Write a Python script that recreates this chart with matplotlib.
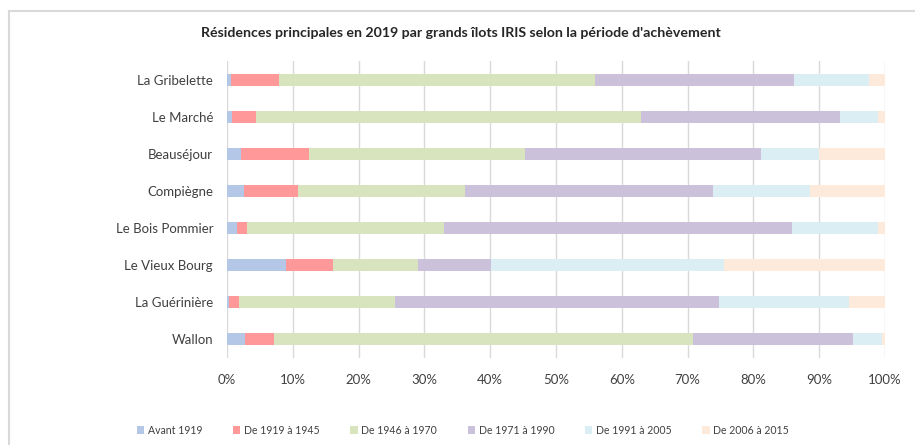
import matplotlib
matplotlib.use("Agg")
import matplotlib.pyplot as plt
from matplotlib.patches import Rectangle
from matplotlib.ticker import PercentFormatter

categories = ["La Gribelette", "Le Marché", "Beauséjour", "Compiègne",
              "Le Bois Pommier", "Le Vieux Bourg", "La Guérinière", "Wallon"]
series_names = ["Avant 1919", "De 1919 à 1945", "De 1946 à 1970",
                "De 1971 à 1990", "De 1991 à 2005", "De 2006 à 2015"]
avant_1919 = [0.6, 0.7, 2.1, 2.6, 1.5, 8.9, 0.3, 2.8]
de_1919_1945 = [7.3, 3.7, 10.4, 8.2, 1.5, 7.2, 1.5, 4.4]
de_1946_1970 = [48.0, 58.5, 32.8, 25.4, 30.0, 13.0, 23.8, 63.6]
de_1971_1990 = [30.2, 30.3, 35.9, 37.6, 52.8, 11.0, 49.1, 24.4]
de_1991_2005 = [11.4, 5.8, 8.8, 14.8, 13.1, 35.4, 19.9, 4.3]
de_2006_2015 = [2.5, 1.0, 10.0, 11.4, 1.1, 24.5, 5.4, 0.5]
series = [avant_1919, de_1919_1945, de_1946_1970, de_1971_1990, de_1991_2005, de_2006_2015]
colors = ["#B4C7E7", "#FF9999", "#D7E4BD", "#CCC1DA", "#DBEEF4", "#FDEADA"]

W, H = 915, 445
fig = plt.figure(figsize=(W / 100, H / 100), dpi=100)
plt.rcParams['font.family'] = ['Lato', 'DejaVu Sans']

# outer chart frame (cut off at right/bottom)
fig.patches.append(Rectangle((9 / W, -0.1), 1.2, 1 - 11 / H + 0.1, transform=fig.transFigure,
                             fill=False, edgecolor="#D9D9D9", linewidth=1.5))

ax = fig.add_axes([227 / W, 1 - 357.5 / H, (885 - 227) / W, (357.5 - 61.5) / H])
ypos = list(range(len(categories)))
left = [0.0] * len(categories)
for name, vals, col in zip(series_names, series, colors):
    ax.barh(ypos, vals, left=left, height=0.3, color=col, label=name, zorder=3)
    left = [a + b for a, b in zip(left, vals)]

ax.set_xlim(0, 100)
ax.set_ylim(len(categories) - 0.5, -0.5)
ax.set_yticks(ypos)
ax.set_yticklabels(categories, fontsize=9.5, color="#404040")
ax.set_xticks(range(0, 101, 10))
ax.xaxis.set_major_formatter(PercentFormatter(decimals=0))
ax.tick_params(axis="x", labelsize=9.5, labelcolor="#404040", length=0, pad=12)
ax.tick_params(axis="y", length=0, pad=10)
ax.grid(axis="x", color="#D9D9D9", linewidth=1, zorder=0)
for s in ax.spines.values():
    s.set_visible(False)

fig.text(460.5 / W, 1 - 33 / H,
         "Résidences principales en 2019 par grands îlots IRIS selon la période d'achèvement",
         ha="center", va="center", fontsize=10.2, fontweight="bold", color="#262626")

handles, labels = ax.get_legend_handles_labels()
fig.legend(handles, labels, loc="center", bbox_to_anchor=(463 / W, 1 - 430 / H), ncol=6,
           frameon=False, fontsize=7.6, handlelength=0.7, handleheight=0.7,
           handletextpad=0.35, columnspacing=2.9, labelcolor="#404040")

fig.savefig("out.png", dpi=100)
